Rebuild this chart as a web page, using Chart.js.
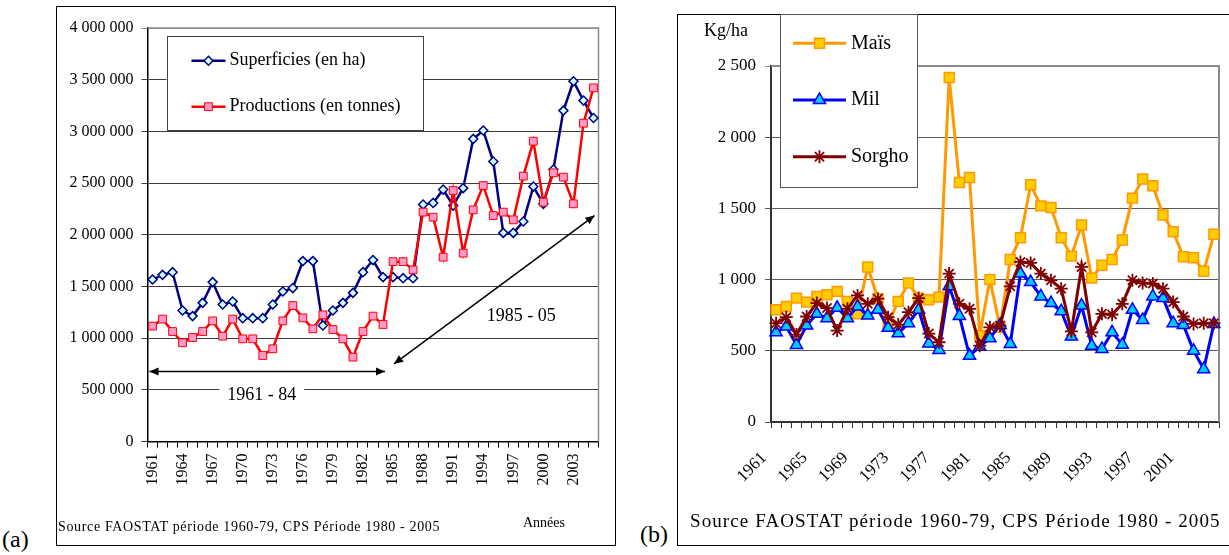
<!DOCTYPE html>
<html>
<head>
<meta charset="utf-8">
<script src="https://cdn.jsdelivr.net/npm/chart.js@4.4.0/dist/chart.umd.min.js"></script>
<style>
  body { margin: 0; width: 1229px; height: 555px; position: relative; overflow: hidden; background: #fff; font-family: "Liberation Serif", "Times New Roman", serif; color: #000; }
  .panel { position: absolute; border: 1px solid #000; box-sizing: border-box; }
  .txt { position: absolute; white-space: nowrap; line-height: 1; }
  canvas { position: absolute; }
</style>
</head>
<body>
<div class="panel" style="left:56px;top:6px;width:560px;height:540px"></div>
<div class="panel" style="left:677px;top:14px;width:620px;height:532px"></div>

<canvas id="chartA" width="560" height="540" style="left:56px;top:6px"></canvas>
<canvas id="chartB" width="552" height="531" style="left:677px;top:14px"></canvas>

<div class="txt" style="left:2px;top:527px;font-size:24px">(a)</div>
<div class="txt" style="left:640px;top:522px;font-size:24px">(b)</div>
<div class="txt" style="left:58px;top:520px;font-size:14px;letter-spacing:0.65px">Source FAOSTAT période 1960-79, CPS Période 1980 - 2005</div>
<div class="txt" style="left:523px;top:516px;font-size:14px">Années</div>
<div class="txt" style="left:704px;top:21px;font-size:18px">Kg/ha</div>
<div class="txt" style="left:690px;top:511px;font-size:19px;letter-spacing:1.1px">Source FAOSTAT période 1960-79, CPS Période 1980 - 2005</div>

<script>
// ---- (a) superficies / productions, 1961-2005
const yearsA = ['1961','1962','1963','1964','1965','1966','1967','1968','1969','1970',
  '1971','1972','1973','1974','1975','1976','1977','1978','1979','1980',
  '1981','1982','1983','1984','1985','1986','1987','1988','1989','1990',
  '1991','1992','1993','1994','1995','1996','1997','1998','1999','2000',
  '2001','2002','2003','2004','2005'];
const superficies = [1567000,1612000,1638000,1267000,1213000,1341000,1542000,1325000,1354000,1193000,
  1193000,1193000,1325000,1451000,1484000,1745000,1745000,1122000,1267000,1341000,
  1438000,1638000,1755000,1590000,1590000,1580000,1580000,2292000,2308000,2437000,
  2282000,2451000,2927000,3008000,2708000,2018000,2018000,2128000,2466000,2299000,
  2631000,3201000,3485000,3298000,3130000];
const productions = [1116000,1184000,1064000,955000,1006000,1064000,1167000,1019000,1184000,993000,
  993000,832000,897000,1167000,1315000,1196000,1090000,1225000,1083000,993000,
  816000,1064000,1213000,1132000,1740000,1740000,1660000,2219000,2170000,1783000,
  2428000,1822000,2241000,2476000,2186000,2219000,2144000,2567000,2905000,2315000,
  2599000,2557000,2299000,3079000,3421000];
const ticksA = [0, 500000, 1000000, 1500000, 2000000, 2500000, 3000000, 3500000, 4000000];

// annotation arrows (category index, value) and period labels
const periodArrows = [[-0.3, 677000, 23.2, 677000], [24.1, 751000, 44.1, 2186000]];
const periodLabels = ['1961 - 84', '1985 - 05'];
const periodLabelAt = [[10.9, 445000], [36.8, 1215000]];

// ---- (b) rendements, 1961-2004
const yearsB = yearsA.slice(0, 44);
const mais = [788,811,870,842,882,894,917,847,760,1089,866,689,847,976,870,859,877,2419,1682,1717,
  607,1000,665,1141,1294,1666,1518,1506,1294,1165,1383,1011,1101,1141,1278,1572,1706,1659,1454,1336,
  1160,1153,1059,1318];
const mil = [630,670,541,677,760,729,802,729,811,748,788,661,623,694,788,552,506,953,745,465,
  529,588,682,548,1042,983,882,835,778,600,818,536,513,630,543,788,717,882,870,694,
  682,501,371,689];
const sorgho = [694,736,614,741,835,800,642,795,889,830,866,736,684,771,870,621,560,1042,830,795,
  536,665,677,953,1124,1117,1042,995,936,636,1089,630,760,755,830,995,976,972,936,842,
  741,689,694,694];
const ticksB = [0, 500, 1000, 1500, 2000, 2500];

const serif = 'Liberation Serif';
const spaced = v => String(v).replace(/\B(?=(\d{3})+(?!\d))/g, ' ');

// fixed axis sizes so the plot areas sit where the reference has them
const fixHeight = h => s => { s.height = h; s.paddingLeft = 0; s.paddingRight = 0; };
const fixWidth = w => s => { s.width = w; s.paddingTop = 0; s.paddingBottom = 0; };

function arrowHead(ctx, x0, y0, x1, y1) {
  const a = Math.atan2(y1 - y0, x1 - x0), L = 9, W = 4;
  ctx.beginPath();
  ctx.moveTo(x1, y1);
  ctx.lineTo(x1 - L * Math.cos(a) + W * Math.sin(a), y1 - L * Math.sin(a) - W * Math.cos(a));
  ctx.lineTo(x1 - L * Math.cos(a) - W * Math.sin(a), y1 - L * Math.sin(a) + W * Math.cos(a));
  ctx.closePath();
  ctx.fill();
}

// gray frame on top and right of the plot area
const plotFrame = {
  id: 'plotFrame',
  beforeDatasetsDraw(chart, args, opts) {
    const a = chart.chartArea, ctx = chart.ctx;
    ctx.save();
    ctx.strokeStyle = opts.color;
    ctx.lineWidth = opts.width;
    ctx.beginPath();
    ctx.moveTo(a.left, a.top);
    ctx.lineTo(a.right, a.top);
    ctx.lineTo(a.right, a.bottom);
    ctx.stroke();
    ctx.restore();
  }
};

// legend in a framed box, placed relative to the plot area
const boxLegend = {
  id: 'boxLegend',
  afterDatasetsDraw(chart, args, opts) {
    const ctx = chart.ctx, a = chart.chartArea;
    const x = a.left + opts.x, y = a.top + opts.y;
    ctx.save();
    ctx.fillStyle = '#fff';
    ctx.fillRect(x, y, opts.w, opts.h);
    ctx.strokeStyle = opts.borderColor;
    ctx.lineWidth = 1;
    ctx.strokeRect(Math.round(x) + 0.5, Math.round(y) + 0.5, opts.w, opts.h);
    chart.data.datasets.forEach((ds, i) => {
      const cy = y + opts.rows[i];
      ctx.strokeStyle = ds.borderColor;
      ctx.lineWidth = ds.borderWidth;
      ctx.beginPath();
      ctx.moveTo(x + opts.line[0], cy);
      ctx.lineTo(x + opts.line[1], cy);
      ctx.stroke();
      ctx.fillStyle = ds.pointBackgroundColor;
      ctx.strokeStyle = ds.pointBorderColor;
      ctx.lineWidth = ds.pointBorderWidth;
      Chart.helpers.drawPoint(ctx, { pointStyle: ds.pointStyle, radius: ds.pointRadius, borderWidth: ds.pointBorderWidth, rotation: 0 },
        x + (opts.line[0] + opts.line[1]) / 2, cy);
      ctx.fillStyle = '#000';
      ctx.font = opts.font;
      ctx.textBaseline = 'middle';
      ctx.fillText(ds.label, x + opts.textX, cy);
    });
    ctx.restore();
  }
};

// period arrows and labels on chart (a)
const periods = {
  id: 'periods',
  afterDatasetsDraw(chart) {
    const ctx = chart.ctx, xs = chart.scales.x, ys = chart.scales.y;
    ctx.save();
    ctx.strokeStyle = '#000';
    ctx.fillStyle = '#000';
    ctx.lineWidth = 1.5;
    periodArrows.forEach(p => {
      const x0 = xs.getPixelForValue(p[0]), y0 = ys.getPixelForValue(p[1]);
      const x1 = xs.getPixelForValue(p[2]), y1 = ys.getPixelForValue(p[3]);
      ctx.beginPath();
      ctx.moveTo(x0, y0);
      ctx.lineTo(x1, y1);
      ctx.stroke();
      arrowHead(ctx, x0, y0, x1, y1);
      arrowHead(ctx, x1, y1, x0, y0);
    });
    ctx.font = '18px "' + serif + '"';
    ctx.textAlign = 'center';
    ctx.textBaseline = 'middle';
    periodLabels.forEach((t, i) => {
      const cx = xs.getPixelForValue(periodLabelAt[i][0]), cy = ys.getPixelForValue(periodLabelAt[i][1]);
      const w = ctx.measureText(t).width;
      ctx.fillStyle = '#fff';
      ctx.fillRect(cx - w / 2 - 8, cy - 9, w + 16, 18);
      ctx.fillStyle = '#000';
      ctx.fillText(t, cx, cy);
    });
    ctx.restore();
  }
};

new Chart(document.getElementById('chartA'), {
  type: 'line',
  data: {
    labels: yearsA,
    datasets: [{
      label: 'Superficies (en ha)',
      data: superficies,
      borderColor: '#000080',
      borderWidth: 2.5,
      pointStyle: 'rectRot',
      pointRadius: 4.5,
      pointBackgroundColor: '#ccffff',
      pointBorderColor: '#000080',
      pointBorderWidth: 1.5,
      order: 2
    }, {
      label: 'Productions (en tonnes)',
      data: productions,
      borderColor: '#ff0000',
      borderWidth: 2.5,
      pointStyle: 'rect',
      pointRadius: 5.5,
      pointBackgroundColor: '#ff99cc',
      pointBorderColor: '#ff0000',
      pointBorderWidth: 1,
      order: 1
    }]
  },
  options: {
    responsive: false,
    animation: false,
    events: [],
    elements: { line: { tension: 0 } },
    layout: { padding: { left: 0, right: 17.5, top: 22, bottom: 0 } },
    plugins: {
      legend: { display: false },
      tooltip: { enabled: false },
      plotFrame: { color: '#8c8c8c', width: 1.5 },
      boxLegend: { x: 19, y: 8, w: 256, h: 94, rows: [24.7, 70.7], line: [25, 59], textX: 63, borderColor: '#404040', font: '18px "' + serif + '"' }
    },
    scales: {
      x: {
        type: 'category',
        offset: true,
        afterFit: fixHeight(104.5),
        grid: { display: true, drawOnChartArea: false, drawTicks: true, tickLength: 6, offset: true, color: '#000' },
        border: { display: true, color: '#000', width: 1.5 },
        ticks: {
          autoSkip: false, minRotation: 90, maxRotation: 90, padding: 6,
          color: '#000', font: { family: serif, size: 16 },
          callback: function (v, i) { return i % 3 === 0 ? this.getLabelForValue(v) : ''; }
        }
      },
      y: {
        min: 0, max: 4000000,
        afterFit: fixWidth(91.5),
        afterBuildTicks: s => { s.ticks = ticksA.map(v => ({ value: v })); },
        grid: { color: c => (c.tick && c.tick.value === 4000000 ? '#8c8c8c' : '#3c3c3c'), tickLength: 6, drawTicks: true },
        border: { display: true, color: '#000', width: 1.5 },
        ticks: { color: '#000', padding: 8, font: { family: serif, size: 16 }, callback: v => spaced(v) }
      }
    }
  },
  plugins: [plotFrame, periods, boxLegend]
});

new Chart(document.getElementById('chartB'), {
  type: 'line',
  data: {
    labels: yearsB,
    datasets: [{
      label: 'Maïs',
      data: mais,
      borderColor: '#ff9900',
      borderWidth: 3,
      pointStyle: 'rect',
      pointRadius: 7,
      pointBackgroundColor: '#ffcc00',
      pointBorderColor: '#ff9900',
      pointBorderWidth: 1.5,
      order: 3
    }, {
      label: 'Mil',
      data: mil,
      borderColor: '#0000ff',
      borderWidth: 3,
      pointStyle: 'triangle',
      pointRadius: 7,
      pointBackgroundColor: '#00ccff',
      pointBorderColor: '#0000ff',
      pointBorderWidth: 1.5,
      order: 2
    }, {
      label: 'Sorgho',
      data: sorgho,
      borderColor: '#800000',
      borderWidth: 3,
      pointStyle: 'star',
      pointRadius: 6.5,
      pointBackgroundColor: '#800000',
      pointBorderColor: '#800000',
      pointBorderWidth: 1.8,
      order: 1
    }]
  },
  options: {
    responsive: false,
    animation: false,
    events: [],
    elements: { line: { tension: 0 } },
    layout: { padding: { left: 0, right: 10, top: 52, bottom: 0 } },
    plugins: {
      legend: { display: false },
      tooltip: { enabled: false },
      plotFrame: { color: '#8c8c8c', width: 2 },
      boxLegend: { x: 9, y: -52, w: 137, h: 173, rows: [29.3, 86, 142.7], line: [13, 66], textX: 71, borderColor: '#555', font: '20px "' + serif + '"' }
    },
    scales: {
      x: {
        type: 'category',
        offset: true,
        afterFit: fixHeight(123),
        grid: { display: true, drawOnChartArea: false, drawTicks: true, tickLength: 6, offset: true, color: '#333' },
        border: { display: true, color: '#333', width: 2 },
        ticks: {
          autoSkip: false, minRotation: 45, maxRotation: 45, padding: 20, labelOffset: -12,
          color: '#000', font: { family: serif, size: 17 },
          callback: function (v, i) { return i % 4 === 0 ? this.getLabelForValue(v) : ''; }
        }
      },
      y: {
        min: 0, max: 2500,
        afterFit: fixWidth(94),
        afterBuildTicks: s => { s.ticks = ticksB.map(v => ({ value: v })); },
        grid: { color: c => (c.tick && c.tick.value === 2500 ? '#8c8c8c' : '#5a5a5a'), tickLength: 6, drawTicks: true },
        border: { display: true, color: '#333', width: 2 },
        ticks: { color: '#000', padding: 9, font: { family: serif, size: 17 }, callback: v => spaced(v) }
      }
    }
  },
  plugins: [plotFrame, boxLegend]
});
</script>
</body>
</html>
